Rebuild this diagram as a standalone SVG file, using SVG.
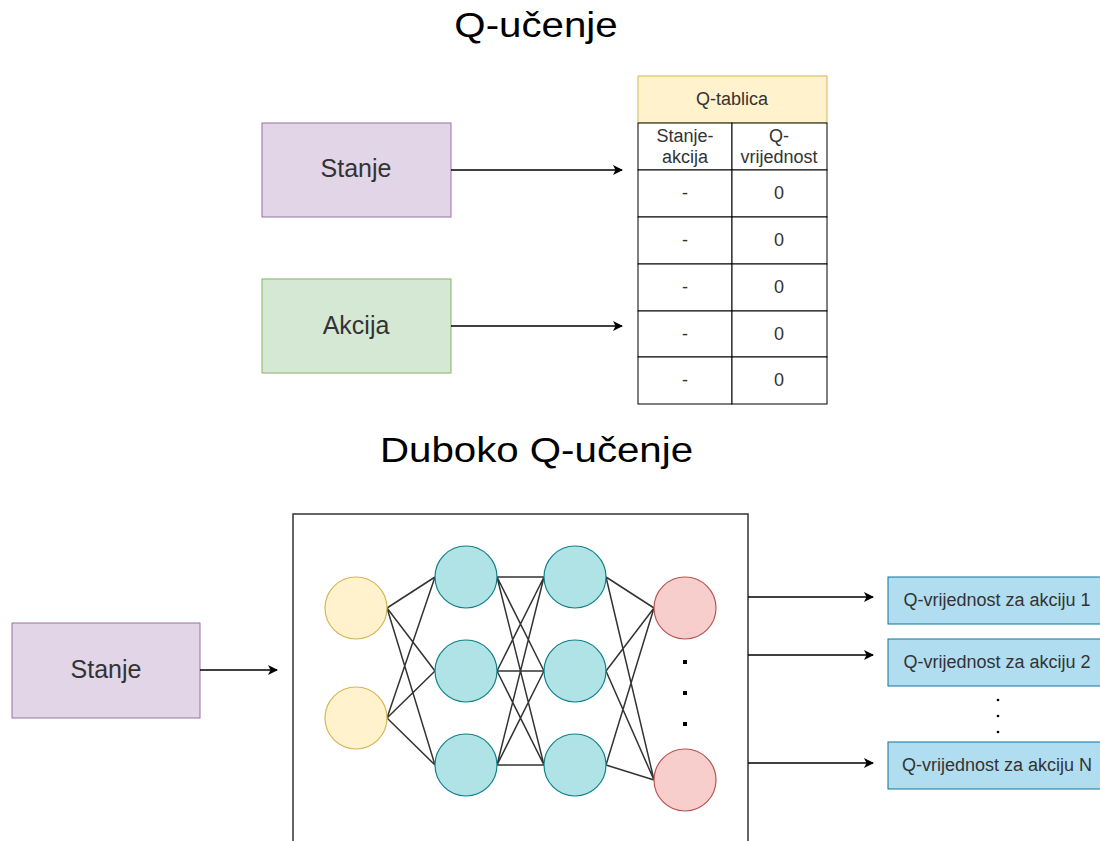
<svg xmlns="http://www.w3.org/2000/svg" width="1100" height="841" viewBox="0 0 1100 841">
<defs>
<marker id="ah" viewBox="0 0 10 10" refX="9" refY="5" markerWidth="10" markerHeight="10" markerUnits="userSpaceOnUse" orient="auto">
<path d="M0,0 L10,5 L0,10 L2.5,5 Z" fill="#000"/>
</marker>
<style>
text{font-family:"Liberation Sans",Arial,sans-serif;fill:#333}
.title{font-size:35px;fill:#000;text-anchor:middle}
.lbl{font-size:25px;text-anchor:middle}
.cell{font-size:18px;text-anchor:middle}
.out{font-size:18px;text-anchor:middle}
.conn{stroke:#000;stroke-width:1.5;fill:none;marker-end:url(#ah)}
.nn{stroke:#333;stroke-width:1.5;fill:none}
.tab{fill:#fff;stroke:#000;stroke-width:1}
.y{fill:#fff2cc;stroke:#d6b656;stroke-width:1.2}
.t{fill:#b0e3e6;stroke:#0e8088;stroke-width:1.2}
.r{fill:#f8cecc;stroke:#b85450;stroke-width:1.2}
.o{fill:#b1ddf0;stroke:#10739e;stroke-width:1}
</style>
</defs>
<rect width="1100" height="841" fill="#fff"/>
<text class="title" transform="translate(536,37) scale(1.15,1)">Q-učenje</text>
<text class="title" transform="translate(536.5,462) scale(1.15,1)">Duboko Q-učenje</text>

<g id="stanje1"><rect x="262" y="123" width="189" height="94" fill="#e1d5e7" stroke="#9673a6"/><text class="lbl" x="356" y="177">Stanje</text></g>
<g id="akcija"><rect x="262" y="279" width="189" height="94" fill="#d5e8d4" stroke="#82b366"/><text class="lbl" x="356" y="334">Akcija</text></g>

<g id="qtablica">
<rect x="638" y="76" width="189" height="47" fill="#fff2cc" stroke="#d6b656"/>
<text class="cell" x="732" y="105">Q-tablica</text>
<rect class="tab" x="638" y="123" width="94" height="47"/><rect class="tab" x="732" y="123" width="95" height="47"/>
<text class="cell" x="685" y="142">Stanje-</text><text class="cell" x="685" y="163">akcija</text>
<text class="cell" x="779" y="142">Q-</text><text class="cell" x="779" y="163">vrijednost</text>
<rect class="tab" x="638" y="170" width="94" height="47"/><rect class="tab" x="732" y="170" width="95" height="47"/>
<rect class="tab" x="638" y="217" width="94" height="47"/><rect class="tab" x="732" y="217" width="95" height="47"/>
<rect class="tab" x="638" y="264" width="94" height="47"/><rect class="tab" x="732" y="264" width="95" height="47"/>
<rect class="tab" x="638" y="311" width="94" height="46"/><rect class="tab" x="732" y="311" width="95" height="46"/>
<rect class="tab" x="638" y="357" width="94" height="47"/><rect class="tab" x="732" y="357" width="95" height="47"/>
<text class="cell" x="685" y="199">-</text><text class="cell" x="779" y="199">0</text>
<text class="cell" x="685" y="246">-</text><text class="cell" x="779" y="246">0</text>
<text class="cell" x="685" y="293">-</text><text class="cell" x="779" y="293">0</text>
<text class="cell" x="685" y="340">-</text><text class="cell" x="779" y="340">0</text>
<text class="cell" x="685" y="386">-</text><text class="cell" x="779" y="386">0</text>
</g>

<g id="stanje2"><rect x="12" y="623" width="188" height="95" fill="#e1d5e7" stroke="#9673a6"/><text class="lbl" x="106" y="678">Stanje</text></g>

<g id="network">
<rect x="293" y="514" width="455" height="340" fill="#fff" stroke="#333" stroke-width="1.5"/>
<g class="nn">
<path d="M387,608 L435,577 M387,608 L435,671 M387,608 L435,765 M387,718 L435,577 M387,718 L435,671 M387,718 L435,765"/>
<path d="M497,577 L544,577 M497,577 L544,671 M497,577 L544,765 M497,671 L544,577 M497,671 L544,671 M497,671 L544,765 M497,765 L544,577 M497,765 L544,671 M497,765 L544,765"/>
<path d="M606,577 L654,608 M606,577 L654,780 M606,671 L654,608 M606,671 L654,780 M606,765 L654,608 M606,765 L654,780"/>
</g>
<circle class="y" cx="356" cy="608" r="31"/><circle class="y" cx="356" cy="718" r="31"/>
<circle class="t" cx="466" cy="577" r="31"/><circle class="t" cx="466" cy="671" r="31"/><circle class="t" cx="466" cy="765" r="31"/>
<circle class="t" cx="575" cy="577" r="31"/><circle class="t" cx="575" cy="671" r="31"/><circle class="t" cx="575" cy="765" r="31"/>
<circle class="r" cx="685" cy="608" r="31"/><circle class="r" cx="685" cy="780" r="31"/>
<rect x="683" y="660" width="4" height="4" fill="#000"/><rect x="683" y="691" width="4" height="4" fill="#000"/><rect x="683" y="722" width="4" height="4" fill="#000"/>
</g>

<g id="out1"><rect class="o" x="888" y="577" width="220" height="47"/><text class="out" x="997" y="606">Q-vrijednost za akciju 1</text></g>
<g id="out2"><rect class="o" x="888" y="639" width="220" height="47"/><text class="out" x="997" y="668">Q-vrijednost za akciju 2</text></g>
<g id="outN"><rect class="o" x="888" y="742" width="220" height="47"/><text class="out" x="997" y="771">Q-vrijednost za akciju N</text></g>
<g id="dots2" fill="#000"><circle cx="998" cy="700" r="1.3"/><circle cx="998" cy="716" r="1.3"/><circle cx="998" cy="732" r="1.3"/></g>

<g id="connectors">
<path class="conn" d="M451,170 L622,170"/>
<path class="conn" d="M451,326 L622,326"/>
<path class="conn" d="M200,670 L277,670"/>
<path class="conn" d="M748,597 L873,597"/>
<path class="conn" d="M748,655 L873,655"/>
<path class="conn" d="M748,763 L873,763"/>
</g>
</svg>
